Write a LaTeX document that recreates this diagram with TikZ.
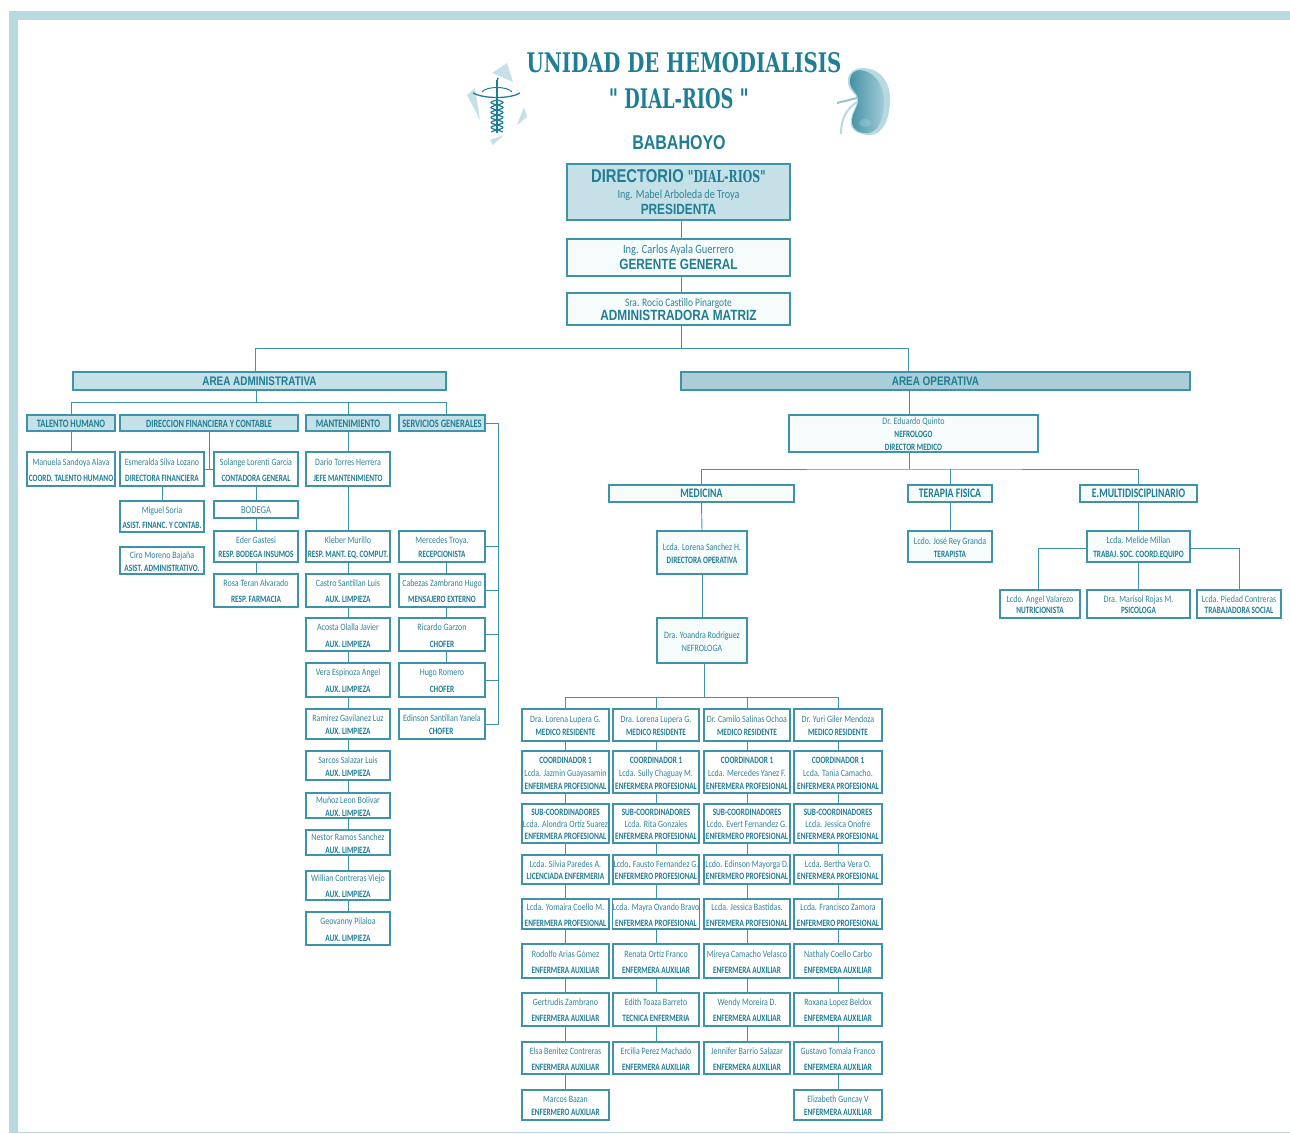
\documentclass[tikz,border=0pt]{standalone}
\usepackage{fontspec}
\newfontfamily\cajafont[FakeStretch=.82]{Carlito}
\newfontfamily\cargofont[FakeStretch=.75]{Carlito}
\newfontfamily\anchofont[FakeStretch=.8]{Liberation Sans}
\newfontfamily\serifont[FakeStretch=.73]{DejaVu Serif}
\newfontfamily\dialfont[FakeStretch=.66]{DejaVu Serif}
\usetikzlibrary{calc}
\definecolor{banda}{HTML}{B9D9E1}
\definecolor{borde}{HTML}{3F93A9}
\definecolor{tinta}{HTML}{1F7D94}
\definecolor{tintaclara}{HTML}{2F8499}
\definecolor{celeste}{HTML}{C6E0E7}
\definecolor{celesteosc}{HTML}{A9CED7}
\definecolor{blanco}{HTML}{F6FBFC}
\tikzset{
 linea/.style={draw=borde, line width=.9pt},
 caja/.style={draw=borde, line width=1.1pt, fill=white, text=tintaclara, inner sep=0, outer sep=0, align=center},
 cajablanca/.style={caja, fill=blanco},
 cajaclara/.style={caja, fill=celeste},
 cajaoscura/.style={caja, fill=celesteosc},
}
\newcommand{\cargo}[1]{{\cargofont\color{tinta}\bfseries #1}}
\newcommand{\titular}[2]{{\cargofont\color{tinta}\bfseries\fontsize{#1}{12}\selectfont #2}}
\newcommand{\lema}[1]{{\anchofont\bfseries\fontsize{14.8}{12}\selectfont\color{tinta} #1}}
\newcommand{\franja}[1]{\anchofont\bfseries\fontsize{12.4}{12}\selectfont\color{tinta} #1}
% style, name, left, top, right, bottom, line gap, text
\newcommand{\caja}[8][caja]{\node[#1, minimum width={(#5-#3)*1pt}, minimum height={(#6-#4)*1pt},
 font={\cajafont\fontsize{9.7}{#7}\selectfont}] (#2) at ({(#3+#5)/2},{(#4+#6)/2}) {\rule{0pt}{9pt}#8};}
% one row of the four columns under the nefrologa
\newcommand{\fila}[8]{
 \caja{a#1}{522}{#2}{609}{#3}{#4}{#5}
 \caja{b#1}{613}{#2}{699}{#3}{#4}{#6}
 \caja{c#1}{704}{#2}{790}{#3}{#4}{#7}
 \caja{d#1}{794}{#2}{882}{#3}{#4}{#8}
}
\begin{document}
\begin{tikzpicture}[x=1pt, y=-1pt]
\useasboundingbox (0,0) rectangle (1290,1133);
% frame
\fill[banda] (9,11) rectangle (1290,20);
\fill[banda] (9,11) rectangle (18,1133);
\fill[banda] (18,1132) rectangle (1290,1133);
% title
\node[text=tinta, font={\serifont\bfseries\fontsize{27}{27}\selectfont}] (tit) at (684,63) {UNIDAD DE HEMODIALISIS};
\node[text=tinta, font={\dialfont\bfseries\fontsize{27}{27}\selectfont}] (dial) at (679,99) {" DIAL-RIOS "};
\node[text=tinta, font={\anchofont\bfseries\fontsize{20}{20}\selectfont}] (bab) at (679,143) {BABAHOYO};
% caduceus
\fill[celeste] (492,73) -- (507,63) -- (513,82) -- cycle;
\fill[celeste] (467,95) -- (475,88) -- (480,120) -- cycle;
\fill[celeste] (517,125) -- (524,107) -- (527,117) -- cycle;
\fill[celeste] (490,140) -- (504,135) -- (493,145) -- cycle;
\draw[tinta, line width=1.4pt] (497,80) -- (497,133);
\draw[tinta, line width=1pt] (497,80) .. controls (499,79) and (498,78) .. (497,78);
\draw[tinta, line width=1.3pt] (473,93) .. controls (484,99) and (510,99) .. (520,93);
\draw[tinta, line width=1pt] (482,92) .. controls (486,86) and (508,86) .. (512,92);
\draw[tinta, line width=1.2pt] plot[domain=100:132, samples=40] ({497+6*sin(\x*36)},\x);
\draw[tinta, line width=1.2pt] plot[domain=100:132, samples=40] ({497-6*sin(\x*36)},\x);
% kidney
\fill[banda] (862,68) .. controls (882,68) and (891,85) .. (890,100) .. controls (890,120) and (882,135) .. (870,135)
 .. controls (858,135) and (849,130) .. (851,120) .. controls (852,110) and (857,108) .. (857,100)
 .. controls (857,92) and (847,92) .. (848,80) .. controls (848,72) and (855,68) .. (862,68) -- cycle;
\shade[left color=tinta!85!white, right color=banda!80!borde] (860,70) .. controls (874,71) and (884,85) .. (884,100) .. controls (884,120) and (878,132) .. (868,133)
 .. controls (858,134) and (851,128) .. (852,120) .. controls (853,110) and (858,108) .. (858,100)
 .. controls (858,92) and (849,90) .. (850,80) .. controls (850,74) and (855,70) .. (860,70) -- cycle;
\fill[banda, opacity=.3] (865,123) ellipse (6pt and 4pt);
\draw[banda!70!borde, line width=2pt] (837,103) -- (857,98);
\draw[banda, line width=2pt] (841,134) .. controls (841,120) and (845,110) .. (857,102);
% direccion
\caja[cajaclara]{dir}{567}{164}{790}{220}{15.5}{{\anchofont\bfseries\fontsize{18.5}{17}\selectfont\color{tinta} DIRECTORIO {\dialfont\bfseries\fontsize{16.5}{17}\selectfont"DIAL-RIOS"}}\\[1pt]
 {\fontsize{12.4}{12}\selectfont Ing. Mabel Arboleda de Troya}\\ \lema{PRESIDENTA}}
\caja[cajablanca]{ger}{567}{239}{790}{276}{16}{{\fontsize{12.7}{11}\selectfont Ing. Carlos Ayala Guerrero}\\ \lema{GERENTE GENERAL}}
\caja[cajablanca]{adm}{567}{293}{790}{325}{14}{{\fontsize{11.5}{10}\selectfont Sra. Rocio Castillo Pinargote}\\ \lema{ADMINISTRADORA MATRIZ}}
\coordinate (ejeC) at (681,348);
\coordinate (ejeA) at (255,348);
\coordinate (ejeO) at (908,348);
\draw[linea] (dir.south -| ejeC) -- (ger.north -| ejeC);
\draw[linea] (ger.south -| ejeC) -- (adm.north -| ejeC);
\draw[linea] (adm.south -| ejeC) -- (ejeC);
% areas
\caja[cajaclara]{aadm}{73}{372}{446}{390}{12}{\franja{AREA ADMINISTRATIVA}}
\caja[cajaoscura]{aop}{681}{372}{1190}{390}{12}{\franja{AREA OPERATIVA}}
\draw[linea] (ejeA |- aadm.north) -- (ejeA) -- (ejeO) -- (ejeO |- aop.north);
% area administrativa
\caja[cajaclara]{tal}{27}{415}{115}{431}{12}{\titular{11.3}{TALENTO HUMANO}}
\caja[cajaclara]{fin}{120}{415}{298}{431}{12}{\titular{11}{DIRECCION FINANCIERA Y CONTABLE}}
\caja[cajaclara]{man}{306}{415}{390}{431}{12}{\titular{11.5}{MANTENIMIENTO}}
\caja[cajaclara]{ser}{399}{415}{485}{431}{12}{\titular{11.3}{SERVICIOS GENERALES}}
\foreach \nm/\l/\t/\r/\b/\sp/\uno/\dos in {
 manu/27/452/115/486/16/Manuela Sandoya Alava/COORD. TALENTO HUMANO,
 esme/120/452/204/486/16/Esmeralda Silva Lozano/DIRECTORA FINANCIERA,
 sola/214/452/298/486/16/Solange Lorenti Garcia/CONTADORA GENERAL,
 dari/306/452/390/486/16/Dario Torres Herrera/JEFE MANTENIMIENTO,
 migu/120/501/204/532/15/Miguel Soria/ASIST. FINANC. Y CONTAB.,
 ciro/120/547/204/574/13/Ciro Moreno Bajaña/ASIST. ADMINISTRATIVO.,
 eder/214/531/298/562/14/Eder Gastesi/RESP.  BODEGA INSUMOS,
 rosa/214/574/298/607/16/Rosa Teran Alvarado/RESP.  FARMACIA,
 kleb/306/531/390/562/14/Kleber Murillo/RESP. MANT. EQ. COMPUT.,
 cast/306/574/390/607/16/Castro Santillan Luis/AUX. LIMPIEZA,
 acos/306/618/390/651/17/Acosta Olalla Javier/AUX. LIMPIEZA,
 vera/306/663/390/697/17/Vera Espinoza Angel/AUX. LIMPIEZA,
 rami/306/709/390/739/13/Ramirez Gavilanez Luz/AUX. LIMPIEZA,
 sarc/306/751/390/780/13/Sarcos Salazar Luis/AUX. LIMPIEZA,
 muno/306/793/390/818/13/Muñoz Leon Bolivar/AUX. LIMPIEZA,
 nest/306/830/390/855/13/Nestor Ramos  Sanchez/AUX. LIMPIEZA,
 will/306/871/390/900/16/Willian Contreras Viejo/AUX. LIMPIEZA,
 geov/306/912/390/945/17/Geovanny Pilaloa/AUX. LIMPIEZA,
 merc/399/531/485/562/14/Mercedes Troya./RECEPCIONISTA,
 cabe/399/574/485/607/16/Cabezas Zambrano Hugo/MENSAJERO EXTERNO,
 rica/399/618/485/651/17/Ricardo Garzon/CHOFER,
 hugo/399/663/485/697/17/Hugo Romero/CHOFER,
 edin/399/709/485/739/13/Edinson Santillan Yanela/CHOFER
}{
 \caja{\nm}{\l}{\t}{\r}{\b}{\sp}{\uno\\ \cargo{\dos}}
}
\caja{bode}{214}{501}{298}{518}{12}{{\fontsize{10.4}{12}\selectfont BODEGA}}
\coordinate (subA) at (256,402);
\coordinate (ejeS) at (446,402);
\draw[linea] (subA |- aadm.south) -- (subA);
\draw[linea] (tal.north) |- (ejeS) -- (ejeS |- ser.north);
\draw[linea] (man.north) -- (man.north |- subA);
\draw[linea] (tal.south) -- (manu.north);
\coordinate (finB) at (209,469);
\draw[linea] (fin.south) -- (finB);
\draw[linea] (esme.east |- finB) -- (sola.west |- finB);
\draw[linea] (man.south) -- (dari.north);
\draw[linea] (dari.south) -- (kleb.north);
\draw[linea] (esme.south) -- (migu.north);
\draw[linea] (sola.south) -- (bode.north);
\draw[linea] (bode.south) -- (eder.north);
\draw[linea] (eder.south) -- (rosa.north);
\foreach \p/\q in {kleb/cast, cast/acos, acos/vera, vera/rami, rami/sarc, sarc/muno, muno/nest, nest/will, will/geov}{
 \draw[linea] (\p.south) -- (\q.north);
}
\foreach \p/\q in {merc/cabe, cabe/rica, rica/hugo}{
 \draw[linea] (\p.south -| ejeS) -- (\q.north -| ejeS);
}
\coordinate (busS) at (498,423);
\draw[linea] (ser.east) -- (busS) -- (busS |- edin.east) -- (edin.east);
\foreach \p in {merc, cabe, rica, hugo}{
 \draw[linea] (\p.east) -- (\p.east -| busS);
}
% area operativa
\caja[cajablanca]{edua}{789}{415}{1038}{452}{13}{Dr. Eduardo Quinto\\ \cargo{NEFROLOGO}\\ \cargo{DIRECTOR MEDICO}}
\caja[cajablanca]{medi}{609}{485}{794}{502}{12}{\titular{13}{MEDICINA}}
\caja[cajablanca]{tera}{908}{485}{992}{502}{12}{\titular{13}{TERAPIA FISICA}}
\caja[cajablanca]{mult}{1080}{485}{1197}{502}{12}{\titular{13}{E.MULTIDISCIPLINARIO}}
\caja[cajablanca]{lore}{657}{531}{747}{574}{13}{Lcda. Lorena Sanchez H.\\ \cargo{DIRECTORA OPERATIVA}}
\caja[cajablanca]{yoan}{657}{618}{747}{663}{13}{Dra. Yoandra Rodriguez\\ NEFROLOGA}
\caja[cajablanca]{jose}{908}{531}{992}{562}{13}{Lcdo. José Rey Granda\\ \cargo{TERAPISTA}}
\caja[cajablanca]{meli}{1087}{531}{1190}{562}{14}{Lcda. Melide Millan\\ \cargo{TRABAJ. SOC. COORD.EQUIPO}}
\caja{angel}{1000}{590}{1080}{618}{11}{Lcdo.  Angel Valarezo\\ \cargo{NUTRICIONISTA}}
\caja{mari}{1087}{590}{1190}{618}{11}{Dra. Marisol Rojas M.\\ \cargo{PSICOLOGA}}
\caja{pied}{1197}{590}{1281}{618}{11}{Lcda.  Piedad Contreras\\ \cargo{TRABAJADORA SOCIAL}}
\coordinate (ejeE) at (909,469);
\draw[linea] (aop.south -| ejeE) -- (edua.north -| ejeE);
\draw[linea] (edua.south -| ejeE) -- (ejeE);
\draw[linea] (medi.north) |- (ejeE) -| (mult.north);
\draw[linea] (tera.north) -- (tera.north |- ejeE);
\draw[linea] (tera.south) -- (jose.north);
\draw[linea] (medi.south) -- (lore.north);
\draw[linea] (lore.south) -- (yoan.north);
\draw[linea] (mult.south -| meli.north) -- (meli.north);
\draw[linea] (meli.south) -- (mari.north);
\coordinate (ejeN) at (1038,548);
\coordinate (ejeT) at (1239,548);
\draw[linea] (meli.west |- ejeN) -- (ejeN) -- (ejeN |- angel.north);
\draw[linea] (meli.east |- ejeT) -- (ejeT) -- (ejeT |- pied.north);
% medicina
\fila{1}{709}{741}{13}{Dra. Lorena Lupera G.\\ \cargo{MEDICO RESIDENTE}}{Dra. Lorena Lupera G.\\ \cargo{MEDICO RESIDENTE}}{Dr. Camilo Salinas Ochoa\\ \cargo{MEDICO RESIDENTE}}{Dr. Yuri Giler Mendoza\\ \cargo{MEDICO RESIDENTE}}
\fila{2}{751}{793}{13}{\cargo{COORDINADOR 1}\\ Lcda. Jazmin Guayasamin\\ \cargo{ENFERMERA PROFESIONAL}}{\cargo{COORDINADOR 1}\\ Lcda. Sully Chaguay M.\\ \cargo{ENFERMERA PROFESIONAL}}{\cargo{COORDINADOR 1}\\ Lcda. Mercedes Yanez F.\\ \cargo{ENFERMERA PROFESIONAL}}{\cargo{COORDINADOR 1}\\ Lcda. Tania Camacho.\\ \cargo{ENFERMERA PROFESIONAL}}
\fila{3}{804}{843}{12}{\cargo{SUB-COORDINADORES}\\ Lcda. Alondra Ortiz Suarez\\ \cargo{ENFERMERA PROFESIONAL}}{\cargo{SUB-COORDINADORES}\\ Lcda. Rita Gonzales\\ \cargo{ENFERMERA PROFESIONAL}}{\cargo{SUB-COORDINADORES}\\ Lcdo. Evert Fernandez G.\\ \cargo{ENFERMERO PROFESIONAL}}{\cargo{SUB-COORDINADORES}\\ Lcda. Jessica Onofre\\ \cargo{ENFERMERA PROFESIONAL}}
\fila{4}{855}{884}{12}{Lcda. Silvia Paredes A.\\ \cargo{LICENCIADA ENFERMERIA}}{Lcdo. Fausto Fernandez G.\\ \cargo{ENFERMERO PROFESIONAL}}{Lcdo. Edinson Mayorga D.\\ \cargo{ENFERMERO PROFESIONAL}}{Lcda. Bertha Vera O.\\ \cargo{ENFERMERA PROFESIONAL}}
\fila{5}{899}{929}{16}{Lcda. Yomaira Coello M.\\ \cargo{ENFERMERA PROFESIONAL}}{Lcda. Mayra Ovando Bravo\\ \cargo{ENFERMERA PROFESIONAL}}{Lcda. Jessica Bastidas.\\ \cargo{ENFERMERA PROFESIONAL}}{Lcda. Francisco Zamora\\ \cargo{ENFERMERO PROFESIONAL}}
\fila{6}{944}{978}{16}{Rodolfo Arias Gómez\\ \cargo{ENFERMERA AUXILIAR}}{Renata Ortiz Franco\\ \cargo{ENFERMERA AUXILIAR}}{Mireya Camacho Velasco\\ \cargo{ENFERMERA AUXILIAR}}{Nathaly Coello Carbo\\ \cargo{ENFERMERA AUXILIAR}}
\fila{7}{993}{1026}{16}{Gertrudis Zambrano\\ \cargo{ENFERMERA AUXILIAR}}{Edith Toaza Barreto\\ \cargo{TECNICA ENFERMERIA}}{Wendy Moreira  D.\\ \cargo{ENFERMERA AUXILIAR}}{Roxana Lopez Beldox\\ \cargo{ENFERMERA AUXILIAR}}
\fila{8}{1042}{1074}{16}{Elsa Benitez  Contreras\\ \cargo{ENFERMERA AUXILIAR}}{Ercilia Perez Machado\\ \cargo{ENFERMERA AUXILIAR}}{Jennifer Barrio Salazar\\ \cargo{ENFERMERA AUXILIAR}}{Gustavo Tomala Franco\\ \cargo{ENFERMERA AUXILIAR}}
\caja{a9}{522}{1090}{609}{1120}{13}{Marcos Bazan\\ \cargo{ENFERMERO AUXILIAR}}
\caja{d9}{794}{1090}{882}{1120}{13}{Elizabeth Guncay V\\ \cargo{ENFERMERA AUXILIAR}}
\foreach \c in {a,b,c,d}{
 \foreach \f [evaluate=\f as \g using int(\f+1)] in {1,...,7}{
  \draw[linea] (\c\f.south) -- (\c\g.north);
 }
}
\draw[linea] (a8.south) -- (a9.north);
\draw[linea] (d8.south) -- (d9.north);
\coordinate (ejeM) at (704,697);
\draw[linea] (yoan.south -| ejeM) -- (ejeM);
\draw[linea] (a1.north) |- (ejeM) -| (d1.north);
\draw[linea] (b1.north) -- (b1.north |- ejeM);
\draw[linea] (c1.north) -- (c1.north |- ejeM);
\end{tikzpicture}
\end{document}
